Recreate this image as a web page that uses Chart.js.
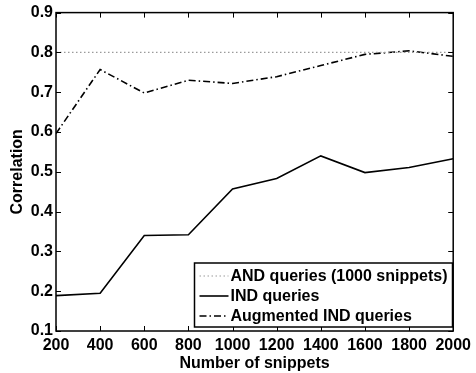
<!DOCTYPE html>
<html>
<head>
<meta charset="utf-8">
<script src="https://cdn.jsdelivr.net/npm/chart.js@4/dist/chart.umd.min.js"></script>
<style>
html,body{margin:0;padding:0;background:#fff;}
#wrap{width:476px;height:373px;position:relative;}
</style>
</head>
<body>
<div id="wrap"><canvas id="c" width="476" height="373"></canvas></div>
<script>
const snippets = [200, 400, 600, 800, 1000, 1200, 1400, 1600, 1800, 2000];
const andQueries = [0.8, 0.8, 0.8, 0.8, 0.8, 0.8, 0.8, 0.8, 0.8, 0.8];
const indQueries = [0.189, 0.195, 0.340, 0.342, 0.457, 0.483, 0.540, 0.498, 0.511, 0.533];
const augIndQueries = [0.596, 0.757, 0.698, 0.730, 0.722, 0.739, 0.767, 0.795, 0.804, 0.790];
const seriesNames = ['AND queries (1000 snippets)', 'IND queries', 'Augmented IND queries'];

const FONT = "'Liberation Sans', Arial, Helvetica, sans-serif";
const FSIZE = 16;
const DASHES = [[1.5, 2.5], [], [7, 3, 1.5, 3]];
const COLORS = ['#9a9a9a', '#000', '#000'];
const WIDTHS = [1.2, 1.6, 1.6];

function pts(vals){ return snippets.map((x,i)=>({x:x, y:vals[i]})); }

const framePlugin = {
  id: 'frame',
  afterDatasetsDraw(chart){
    const ctx = chart.ctx, a = chart.chartArea;
    const xs = chart.scales.x, ys = chart.scales.y;
    ctx.save();
    ctx.strokeStyle = '#000';
    ctx.lineWidth = 1;
    ctx.beginPath();
    xs.ticks.forEach(t=>{
      const px = Math.round(xs.getPixelForValue(t.value)) + 0.5;
      ctx.moveTo(px, a.bottom); ctx.lineTo(px, a.bottom - 5);
      ctx.moveTo(px, a.top); ctx.lineTo(px, a.top + 5);
    });
    ys.ticks.forEach(t=>{
      const py = Math.round(ys.getPixelForValue(t.value)) + 0.5;
      ctx.moveTo(a.left, py); ctx.lineTo(a.left + 5, py);
      ctx.moveTo(a.right, py); ctx.lineTo(a.right - 5, py);
    });
    ctx.stroke();
    ctx.lineWidth = 1.5;
    ctx.strokeRect(a.left, a.top, a.right - a.left, a.bottom - a.top);

    // legend box
    const lx = 194.5, lw = 258, lh = 64;
    const ly = a.bottom - 4 - lh;
    ctx.fillStyle = '#fff';
    ctx.fillRect(lx, ly, lw, lh);
    ctx.lineWidth = 1.5;
    ctx.strokeRect(lx, ly, lw, lh);
    ctx.font = 'bold ' + FSIZE + 'px ' + FONT;
    ctx.textBaseline = 'middle';
    ctx.textAlign = 'left';
    chart.data.datasets.forEach((ds, i)=>{
      const cy = ly + 13 + i * 20;
      ctx.save();
      ctx.strokeStyle = ds.borderColor;
      ctx.lineWidth = ds.borderWidth;
      ctx.setLineDash(ds.borderDash);
      ctx.beginPath();
      ctx.moveTo(lx + 5, cy); ctx.lineTo(lx + 34, cy);
      ctx.stroke();
      ctx.restore();
      ctx.fillStyle = '#000';
      ctx.fillText(ds.label, lx + 36, cy + 1);
    });
    ctx.restore();
  }
};

const tickFont = { family: FONT, size: FSIZE, weight: 'bold' };

new Chart(document.getElementById('c'), {
  type: 'line',
  data: {
    datasets: [andQueries, indQueries, augIndQueries].map((v, i)=>({
      label: seriesNames[i],
      data: pts(v),
      borderColor: COLORS[i],
      borderWidth: WIDTHS[i],
      borderDash: DASHES[i],
      pointRadius: 0,
      fill: false,
      tension: 0
    }))
  },
  options: {
    responsive: false,
    animation: false,
    events: [],
    layout: { padding: { top: 8, right: 20, left: 0, bottom: 0 } },
    plugins: { legend: { display: false }, tooltip: { enabled: false } },
    scales: {
      x: {
        type: 'linear', min: 200, max: 2000,
        grid: { display: false, drawTicks: false },
        border: { display: false },
        ticks: { stepSize: 200, padding: 5, color: '#000', font: tickFont, maxRotation: 0, autoSkip: false, callback: v => String(v) },
        title: { display: true, text: 'Number of snippets', color: '#000', font: tickFont, padding: { top: 0, bottom: 0 } },
        afterFit(s){ s.height = 42; }
      },
      y: {
        min: 0.1, max: 0.9,
        grid: { display: false, drawTicks: false },
        border: { display: false },
        ticks: { stepSize: 0.1, padding: 3, color: '#000', font: tickFont, callback: v => v.toFixed(1) },
        title: { display: true, text: 'Correlation', color: '#000', font: tickFont, padding: { top: 8, bottom: 0 } },
        afterFit(s){ s.width = 56; }
      }
    }
  },
  plugins: [framePlugin]
});
</script>
</body>
</html>
